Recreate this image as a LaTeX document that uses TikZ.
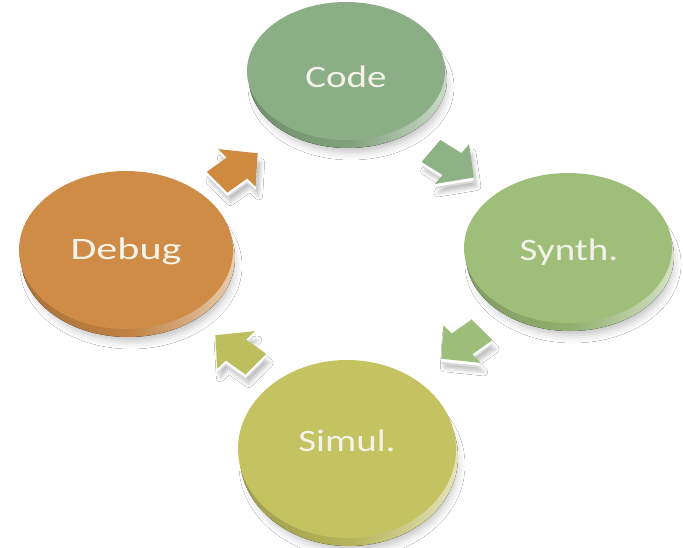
\documentclass[tikz,border=0pt]{standalone}
\usepackage{fontspec}
\setmainfont{Carlito}
\usetikzlibrary{shapes.geometric,shadows.blur}

\definecolor{codeface}{HTML}{8BAE86}
\definecolor{synthface}{HTML}{9EBE79}
\definecolor{simulface}{HTML}{C5C261}
\definecolor{debugface}{HTML}{CF8C46}
\definecolor{arrowA}{HTML}{CE8A3E}
\definecolor{arrowB}{HTML}{8EB285}
\definecolor{arrowC}{HTML}{9DBE78}
\definecolor{arrowD}{HTML}{BDBE5E}
\definecolor{labeltext}{HTML}{F3F3EA}

\tikzset{
  diskface/.style={ellipse, inner sep=0pt, draw=none},
  disklabel/.style={text=labeltext, font=\fontsize{39}{45}\selectfont, inner sep=0pt},
  softshadow/.style={blur shadow={shadow xshift=0pt, shadow yshift=0pt,
      shadow blur radius=#1, shadow opacity=25}},
}

% disk: name, cx, cy, rx, ry, face colour
\newcommand\drawdisk[6]{%
  \path[softshadow=8pt] (#2+5,#3+16) ellipse [x radius={(#4-4)*1pt}, y radius={(#5-4)*1pt}];
  \fill[left color=#6!82!black, right color=#6!45!white, middle color=#6!92!black]
    (#2+2,#3+8) ellipse [x radius=#4pt, y radius=#5pt];
  \node[diskface, fill=#6, minimum width={2*#4pt}, minimum height={2*#5pt}] (#1) at (#2,#3) {};
}

% block arrow: cx, cy, angle, colour
\newcommand\blockarrowpath{(-26,-16) -- (0,-16) -- (0,-29) -- (27,0) -- (0,29) -- (0,16) -- (-26,16) -- cycle}
\newcommand\drawblockarrow[4]{%
  \begin{scope}[shift={(#1+3,#2+9)}, yscale=0.85, rotate=#3]
    \path[softshadow=4pt] \blockarrowpath;
  \end{scope}
  \begin{scope}[shift={(#1,#2+5)}, yscale=0.85, rotate=#3]
    \fill[white!85!black] \blockarrowpath;
  \end{scope}
  \begin{scope}[shift={(#1,#2+3)}, yscale=0.85, rotate=#3]
    \fill[white] \blockarrowpath;
  \end{scope}
  \begin{scope}[shift={(#1,#2)}, yscale=0.85, rotate=#3]
    \fill[#4] \blockarrowpath;
  \end{scope}
}

\begin{document}
\begin{tikzpicture}[x=1pt, y=-1pt]
  \fill[white] (0,0) rectangle (683,548);
  \useasboundingbox (0,0) rectangle (683,548);

  % connecting block arrows
  \drawblockarrow{237}{168}{40}{arrowA}
  \drawblockarrow{452}{164}{-36}{arrowB}
  \drawblockarrow{462}{344}{-140}{arrowC}
  \drawblockarrow{236}{350}{140}{arrowD}

  % the four stage disks
  \drawdisk{code}{346}{71}{99}{69}{codeface}
  \drawdisk{synth}{568}{248}{104}{75}{synthface}
  \drawdisk{simul}{347}{449}{109}{89}{simulface}
  \drawdisk{debug}{126}{250}{107}{79}{debugface}

  % stage labels
  \node[disklabel] (codetxt)  at (346,77)  {\scalebox{1}[0.8]{Code}};
  \node[disklabel] (synthtxt) at (569,252) {\scalebox{1}[0.8]{Synth.}};
  \node[disklabel] (simultxt) at (347,441) {\scalebox{1}[0.8]{Simul.}};
  \node[disklabel] (debugtxt) at (126,251) {\scalebox{1.08}[0.8]{Debug}};
\end{tikzpicture}
\end{document}
